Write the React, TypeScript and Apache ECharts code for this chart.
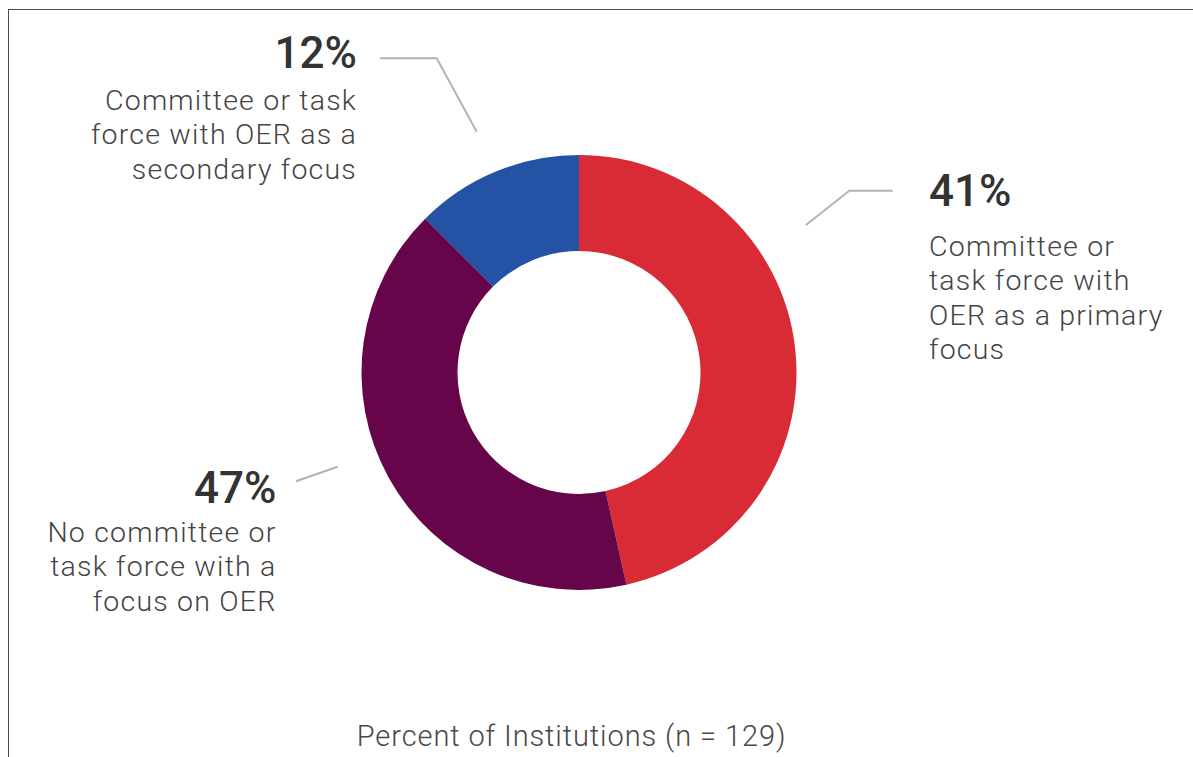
import React, { useEffect, useRef } from "react";
import * as echarts from "echarts";

// Categories (clockwise from 12 o'clock)
const categories = [
  "Committee or task force with OER as a primary focus",
  "No committee or task force with a focus on OER",
  "Committee or task force with OER as a secondary focus",
];
// Slice sizes as drawn in the picture (share of the ring, %)
const sliceShares = [46.5, 41, 12.5];
// Printed percentage labels
const labelPercents = ["41%", "47%", "12%"];
// Printed description lines
const labelTexts = [
  ["Committee or", "task force with", "OER as a primary", "focus"],
  ["No committee or", "task force with a", "focus on OER"],
  ["Committee or task", "force with OER as a", "secondary focus"],
];
const sliceColors = ["#D92B35", "#66054A", "#2453A5"];
const caption = "Percent of Institutions (n = 129)";

// Layout of the labels (positions only)
const labelPlacement = [
  { x: 929, y: 152.9, align: "left", gap: 76.3, line: [[806, 225], [849.3, 190.7], [892.7, 190.7]] },
  { x: 276.5, y: 461.8, align: "right", gap: 53.1, line: [[337.7, 466.7], [296, 481.3], [296, 481.3]] },
  { x: 357, y: 23.5, align: "right", gap: 59.7, line: [[476.7, 131.7], [436.7, 58.3], [380, 58.3]] },
];

const FONT = "'Roboto Light', Roboto, 'Noto Sans', sans-serif";
const FONT_BOLD = "Roboto, 'Noto Sans', sans-serif";

export default function App() {
  const ref = useRef<HTMLDivElement>(null);

  useEffect(() => {
    if (!ref.current) return;
    const chart = echarts.init(ref.current, undefined, { renderer: "svg" });

    const rich: Record<string, any> = {
      t: {
        fontFamily: FONT,
        fontSize: 28.5,
        fontWeight: 300,
        color: "#444444",
        lineHeight: 34.5,
      },
    };
    labelPlacement.forEach((p, i) => {
      rich["p" + i] = {
        fontFamily: FONT_BOLD,
        fontSize: 44,
        fontWeight: 500,
        color: "#333333",
        lineHeight: p.gap,
      };
    });

    chart.setOption({
      animation: false,
      backgroundColor: "#ffffff",
      graphic: [
        {
          type: "text",
          x: 571.5,
          y: 736,
          style: {
            text: caption,
            fontFamily: FONT,
            fontSize: 29,
            fontWeight: 300,
            fill: "#484848",
            align: "center",
            verticalAlign: "middle",
          },
        },
      ],
      series: [
        {
          type: "pie",
          center: [579, 372.5],
          radius: [121.5, 217.5],
          startAngle: 90,
          clockwise: true,
          avoidLabelOverlap: false,
          data: categories.map((name, i) => ({
            name,
            value: sliceShares[i],
            itemStyle: { color: sliceColors[i] },
          })),
          label: {
            show: true,
            position: "outside",
            formatter: (params: any) => {
              const i = params.dataIndex;
              return (
                `{p${i}|${labelPercents[i]}}\n` +
                labelTexts[i].map((l) => `{t|${l}}`).join("\n")
              );
            },
            rich,
          },
          labelLine: {
            show: true,
            lineStyle: { color: "#b3b3b3", width: 2 },
          },
          labelLayout: (params: any) => {
            const p = labelPlacement[params.dataIndex];
            return {
              x: p.x,
              y: p.y,
              align: p.align,
              verticalAlign: "top",
              labelLinePoints: p.line,
            };
          },
          emphasis: { disabled: true },
        },
      ],
    });

    return () => chart.dispose();
  }, []);

  return (
    <>
      <style>{`
        #oer-chart text[style*="28.5px"] { letter-spacing: 1.2px; }
        #oer-chart text[style*="29px"] { letter-spacing: 0.9px; }
      `}</style>
      <div
        id="oer-chart"
        ref={ref}
        style={{ position: "fixed", left: 0, top: 0, width: 1193, height: 757 }}
      />
      <div
        style={{
          position: "fixed",
          left: 8,
          top: 9,
          width: 1185,
          height: 748,
          boxSizing: "border-box",
          borderTop: "1.5px solid #4d4d4d",
          borderLeft: "1.5px solid #4d4d4d",
          pointerEvents: "none",
        }}
      />
    </>
  );
}
